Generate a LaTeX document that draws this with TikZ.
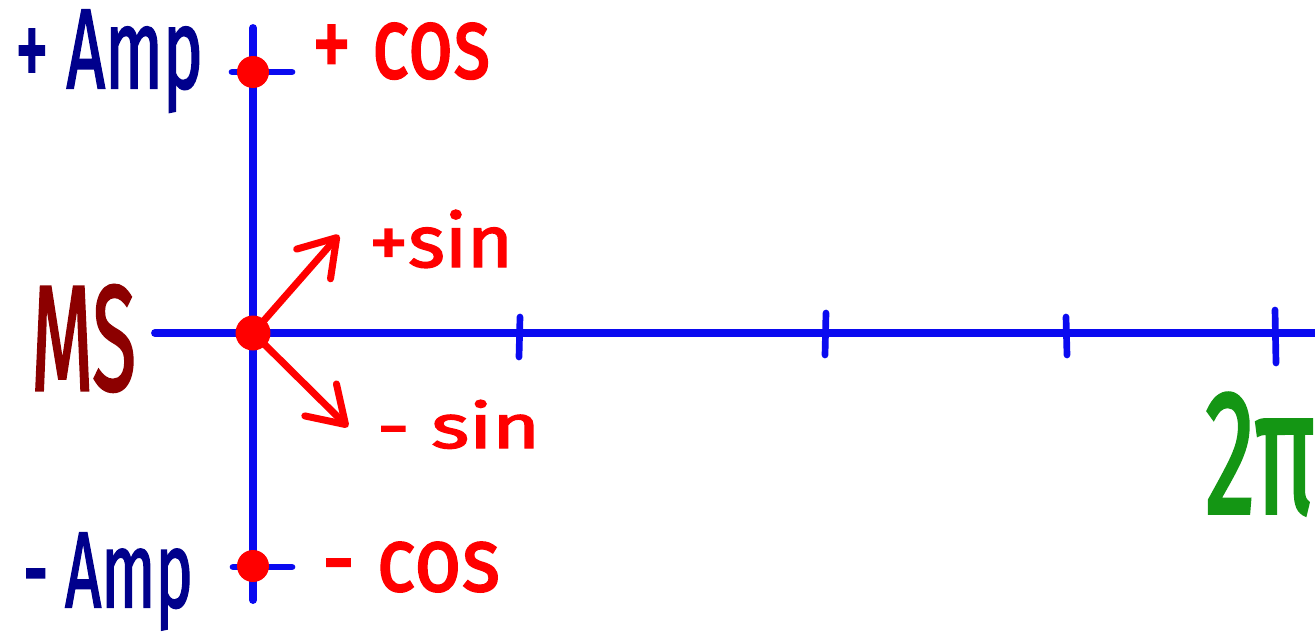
\documentclass[tikz,border=0pt]{standalone}
\usepackage{fontspec}
\setmainfont{Fira Sans}
\newfontfamily\handfont{Fira Sans}[FakeBold=2]
\usepackage{graphicx}
\usetikzlibrary{arrows.meta}
\definecolor{axblue}{RGB}{10,10,240}
\definecolor{navyink}{RGB}{0,0,140}
\definecolor{redink}{RGB}{255,0,0}
\definecolor{dredink}{RGB}{140,0,0}
\definecolor{greenink}{RGB}{20,150,20}
\tikzset{
  axis line/.style={draw=axblue, line width=4.5pt, line cap=round},
  tickmark/.style={draw=axblue, line width=3.8pt, line cap=round},
  reddot/.style={circle, fill=redink, inner sep=0pt, minimum size=0.64cm},
  lab/.style={inner sep=0pt, outer sep=0pt, anchor=base west, font=\handfont},
  redarrow/.style={draw=redink, line width=4pt, line cap=round, line join=round,
    -{Straight Barb[length=0.7cm, width=0.9cm, line cap=round, line join=round]}}
}
\begin{document}
\begin{tikzpicture}[x=0.02cm, y=-0.02cm]
\useasboundingbox (0,0) rectangle (1315,636);
\clip (0,0) rectangle (1315,636);
% axes
\coordinate (vtop) at (253,28);
\coordinate (vbot) at (253,600);
\coordinate (hl) at (155,333);
\coordinate (hr) at (1330,333);
\draw[axis line] (vtop) -- (vbot);
\draw[axis line] (hl) -- (hr);
% ticks on horizontal axis
\coordinate (t1a) at (520,317); \coordinate (t1b) at (519,357);
\coordinate (t2a) at (826,313); \coordinate (t2b) at (825,355);
\coordinate (t3a) at (1066,317); \coordinate (t3b) at (1067,355);
\coordinate (t4a) at (1275,310); \coordinate (t4b) at (1276,363);
\draw[tickmark] (t1a) -- (t1b);
\draw[tickmark] (t2a) -- (t2b);
\draw[tickmark] (t3a) -- (t3b);
\draw[tickmark] (t4a) -- (t4b);
% ticks on vertical axis
\coordinate (ua) at (232,72); \coordinate (ub) at (292,72);
\coordinate (la) at (233,567); \coordinate (lb) at (292,567);
\draw[tickmark] (ua) -- (ub);
\draw[tickmark] (la) -- (lb);
% dots
\node[reddot] (T) at (253,72) {};
\node[reddot] (B) at (253,566) {};
\node[reddot, minimum size=0.7cm] (O) at (253,333) {};
% arrows
\coordinate (ps) at (339,235);
\coordinate (ms) at (348,427);
\draw[redarrow] (O.center) -- (ps);
\draw[redarrow] (O.center) -- (ms);
% labels
\node[lab, text=navyink] (pamp) at (15,88) {\resizebox{3.76cm}{1.56cm}{+ Amp}};
\node[lab, text=navyink] (mamp) at (23,607) {\resizebox{3.4cm}{1.48cm}{- Amp}};
\node[lab, text=redink] (pcos) at (312,78) {\resizebox{3.56cm}{1.1cm}{+ cos}};
\node[lab, text=redink] (mcos) at (322,591) {\resizebox{3.56cm}{0.98cm}{- cos}};
\node[lab, text=redink] (psin) at (369,267) {\resizebox{2.88cm}{1.14cm}{+sin}};
\node[lab, text=redink] (msin) at (377,448) {\resizebox{3.26cm}{0.96cm}{- sin}};
\node[lab, text=dredink] (mslab) at (31,390) {\resizebox{2.1cm}{2.1cm}{MS}};
\node[lab, text=greenink] (twopi) at (1205,513) {\resizebox{2.2cm}{2.4cm}{2π}};
\end{tikzpicture}
\end{document}
